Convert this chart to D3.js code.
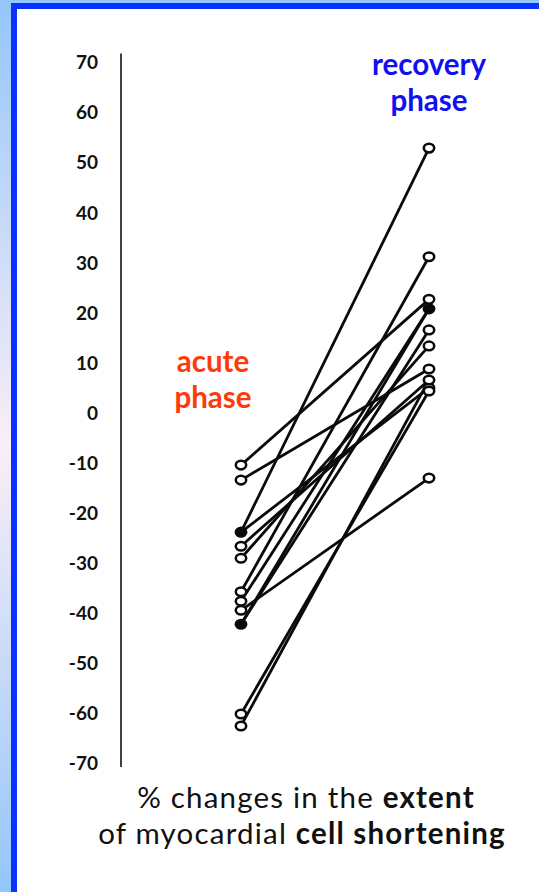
<!DOCTYPE html>
<html lang="en">
<head>
    <meta charset="UTF-8">
    <title>Cell shortening: acute vs recovery</title>
    <script src="https://d3js.org/d3.v7.min.js"></script>
    <style>
        body { margin: 0; background: #fff; }
        svg { display: block; }
        .tick text { font-family: Lato, "Open Sans", sans-serif; font-weight: bold; font-size: 19px; fill: #111; }
    </style>
</head>
<body>
    <svg width="539" height="892"></svg>

    <script>
        // phases
        const phases = ["acute", "recovery"];
        // % change per patient, acute phase -> recovery phase
        const acuteVals    = [-10.5, -13.5, -23.9, -23.9, -26.7, -29.1, -35.8, -37.7, -39.5, -42.3, -42.3, -60.2, -62.6];
        const recoveryVals = [ 22.6,   8.7,  52.8,   4.9,   6.5,  13.3,  31.1,  20.7, -13.1,  16.5,  20.7,   4.3,   6.5];
        // filled markers (overlapping points in the original figure)
        const acuteFilled = [-23.9, -42.3];
        const recoveryFilled = [20.7];
        const yTicks = [70, 60, 50, 40, 30, 20, 10, 0, -10, -20, -30, -40, -50, -60, -70];

        const width = 539, height = 892;
        const svg = d3.select("svg");

        // frame: gradient strip on the left, blue border
        const grad = svg.append("defs").append("linearGradient")
            .attr("id", "strip").attr("x1", 0).attr("x2", 0).attr("y1", 0).attr("y2", 1);
        grad.append("stop").attr("offset", "0%").attr("stop-color", "#93c6fb");
        grad.append("stop").attr("offset", "50%").attr("stop-color", "#fbeef6");
        grad.append("stop").attr("offset", "100%").attr("stop-color", "#93c6fb");

        svg.append("rect").attr("x", 0).attr("y", 0).attr("width", 11).attr("height", height).attr("fill", "url(#strip)");
        svg.append("rect").attr("x", 0).attr("y", 0).attr("width", width).attr("height", 3).attr("fill", "#93c6fb");
        svg.append("rect").attr("x", 11).attr("y", 3).attr("width", width - 11).attr("height", 6).attr("fill", "#0a32ff");
        svg.append("rect").attr("x", 11).attr("y", 3).attr("width", 6).attr("height", height - 3).attr("fill", "#0a32ff");

        const y = d3.scaleLinear().domain([-70, 70]).range([763, 62]);
        const x = d3.scalePoint().domain(phases).range([241, 429]);

        // y axis (plain hyphen for negatives, like the original)
        const axis = svg.append("g")
            .attr("transform", "translate(121,0)")
            .call(d3.axisLeft(y).tickValues(yTicks).tickSize(0).tickPadding(23).tickFormat(d => String(d)));
        axis.select(".domain").remove();
        axis.selectAll(".tick text").attr("dy", "0.36em");

        svg.append("line")
            .attr("x1", 121).attr("x2", 121)
            .attr("y1", y(71.7)).attr("y2", y(-70.8))
            .attr("stroke", "#111").attr("stroke-width", 1.6);

        // patient lines
        const pairs = acuteVals.map((a, i) => ({ a: a, r: recoveryVals[i] }));
        svg.append("g").selectAll("line")
            .data(pairs)
            .join("line")
            .attr("x1", x("acute")).attr("y1", d => y(d.a))
            .attr("x2", x("recovery")).attr("y2", d => y(d.r))
            .attr("stroke", "#0a0a0a").attr("stroke-width", 2.8);

        // markers
        const points = [];
        Array.from(new Set(acuteVals)).forEach(v => points.push({ p: "acute", v: v, f: acuteFilled.includes(v) }));
        Array.from(new Set(recoveryVals)).forEach(v => points.push({ p: "recovery", v: v, f: recoveryFilled.includes(v) }));

        svg.append("g").selectAll("ellipse")
            .data(points)
            .join("ellipse")
            .attr("cx", d => x(d.p)).attr("cy", d => y(d.v))
            .attr("rx", 5.2).attr("ry", 4.3)
            .attr("fill", d => d.f ? "#0a0a0a" : "#fff")
            .attr("stroke", "#0a0a0a").attr("stroke-width", 2.5);

        // phase labels
        const lbl = (txt, cx, cy, col) => svg.append("text")
            .attr("x", cx).attr("y", cy)
            .attr("text-anchor", "middle")
            .attr("font-family", "Lato, 'Open Sans', sans-serif")
            .attr("font-weight", "bold").attr("font-size", 29.5)
            .attr("fill", col).text(txt);
        lbl("acute", 213, 372, "#ff3a0a");
        lbl("phase", 213, 408, "#ff3a0a");
        lbl("recovery", 429, 75, "#1010f0");
        lbl("phase", 429, 111, "#1010f0");

        // x caption
        const cap1 = svg.append("text")
            .attr("x", 306).attr("y", 808)
            .attr("text-anchor", "middle")
            .attr("font-family", "Lato, 'Open Sans', sans-serif")
            .attr("font-size", 29.5).attr("letter-spacing", 1.2).attr("fill", "#111");
        cap1.append("tspan").text("% changes in the ");
        cap1.append("tspan").attr("font-weight", "bold").text("extent");

        const cap2 = svg.append("text")
            .attr("x", 302).attr("y", 844)
            .attr("text-anchor", "middle")
            .attr("font-family", "Lato, 'Open Sans', sans-serif")
            .attr("font-size", 29.5).attr("letter-spacing", 1.2).attr("fill", "#111");
        cap2.append("tspan").text("of myocardial ");
        cap2.append("tspan").attr("font-weight", "bold").text("cell shortening");
    </script>
</body>
</html>
